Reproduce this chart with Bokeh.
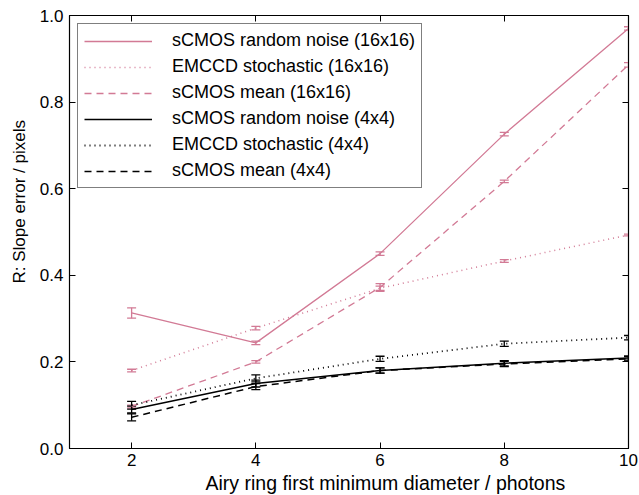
from bokeh.plotting import figure
from bokeh.models import (ColumnDataSource, Whisker, TeeHead, Legend, LegendItem,
                          LinearAxis, FixedTicker, Range1d, NumeralTickFormatter,
                          CustomJSTickFormatter, Title)
from bokeh.embed import file_html
from bokeh.resources import INLINE

# ---- data ----
diameter = [2, 4, 6, 8, 10]

labels = [
    "sCMOS random noise (16x16)",
    "EMCCD stochastic (16x16)",
    "sCMOS mean (16x16)",
    "sCMOS random noise (4x4)",
    "EMCCD stochastic (4x4)",
    "sCMOS mean (4x4)",
]
scmos_rand_16 = [0.313, 0.244, 0.450, 0.726, 0.970]
scmos_rand_16_err = [0.012, 0.004, 0.004, 0.004, 0.004]
emccd_16 = [0.180, 0.278, 0.370, 0.433, 0.493]
emccd_16_err = [0.003, 0.004, 0.005, 0.003, 0.002]
scmos_mean_16 = [0.097, 0.200, 0.372, 0.617, 0.886]
scmos_mean_16_err = [0.003, 0.003, 0.009, 0.003, 0.005]
scmos_rand_4 = [0.090, 0.150, 0.180, 0.197, 0.209]
scmos_rand_4_err = [0.008, 0.008, 0.006, 0.006, 0.005]
emccd_4 = [0.100, 0.162, 0.207, 0.242, 0.256]
emccd_4_err = [0.009, 0.008, 0.006, 0.006, 0.005]
scmos_mean_4 = [0.072, 0.143, 0.180, 0.195, 0.207]
scmos_mean_4_err = [0.008, 0.007, 0.006, 0.006, 0.005]

x_ticks = [2, 4, 6, 8, 10]
y_ticks = [0.0, 0.2, 0.4, 0.6, 0.8, 1.0]
x_title = "Airy ring first minimum diameter / photons"
y_title = "R: Slope error / pixels"

PINK = "#d27a95"
FONT = "Liberation Sans"

values = [scmos_rand_16, emccd_16, scmos_mean_16, scmos_rand_4, emccd_4, scmos_mean_4]
errors = [scmos_rand_16_err, emccd_16_err, scmos_mean_16_err,
          scmos_rand_4_err, emccd_4_err, scmos_mean_4_err]
colors = [PINK, PINK, PINK, "black", "black", "black"]
dashes = ["solid", "1 4", "7 5", "solid", "1 4", "7 5"]
widths = [1.3, 1.5, 1.3, 1.5, 1.8, 1.5]

p = figure(width=639, height=495, output_backend="svg", toolbar_location=None,
           x_range=Range1d(1, 10), y_range=Range1d(0, 1),
           min_border_left=68, min_border_right=11, min_border_top=15,
           min_border_bottom=47)
p.grid.visible = False
p.outline_line_color = "black"
p.outline_line_width = 1.2
p.background_fill_color = "white"
p.border_fill_color = "white"

items = []
for lab, v, e, c, d, w in zip(labels, values, errors, colors, dashes, widths):
    lo = [a - b for a, b in zip(v, e)]
    hi = [a + b for a, b in zip(v, e)]
    src = ColumnDataSource(dict(x=diameter, y=v, lo=lo, hi=hi))
    r = p.line("x", "y", source=src, line_color=c, line_dash=d, line_width=w)
    wk = Whisker(source=src, base="x", lower="lo", upper="hi",
                 line_color=c, line_width=1.3,
                 lower_head=TeeHead(size=9, line_color=c, line_width=1.3),
                 upper_head=TeeHead(size=9, line_color=c, line_width=1.3))
    p.add_layout(wk)
    items.append(LegendItem(label=lab, renderers=[r]))

legend = Legend(items=items, location="top_left", margin=8,
                label_text_font=FONT, label_text_font_size="18px",
                label_text_color="black",
                glyph_width=68, glyph_height=20, label_height=20,
                label_standoff=20, spacing=5, padding=6,
                border_line_color="black", border_line_width=1.2,
                background_fill_alpha=1.0)
p.add_layout(legend)

for ax in (p.xaxis[0], p.yaxis[0]):
    ax.major_tick_in = 6
    ax.major_tick_out = 0
    ax.minor_tick_line_color = None
    ax.axis_line_color = "black"
    ax.major_tick_line_color = "black"
    ax.major_label_text_font = FONT
    ax.major_label_text_font_size = "17px"
    ax.major_label_text_color = "black"

p.xaxis[0].ticker = FixedTicker(ticks=x_ticks)
p.yaxis[0].ticker = FixedTicker(ticks=y_ticks)
p.yaxis[0].formatter = NumeralTickFormatter(format="0.0")
p.xaxis[0].major_label_standoff = 5
p.yaxis[0].major_label_standoff = 6

# axis titles placed as in the reference (both shifted off the frame centre)
p.add_layout(Title(text=x_title, align="left", offset=136, standoff=2,
                   text_font=FONT, text_font_size="19.5px", text_font_style="normal",
                   text_color="black"), "below")
p.add_layout(Title(text=y_title, align="left", offset=165, standoff=15,
                   text_font=FONT, text_font_size="17px", text_font_style="normal",
                   text_color="black"), "left")

blank = CustomJSTickFormatter(code="return ''")
top = LinearAxis(ticker=FixedTicker(ticks=x_ticks), major_tick_in=6, major_tick_out=0,
                 minor_tick_line_color=None, formatter=blank,
                 major_label_standoff=0, axis_line_color="black")
right = LinearAxis(ticker=FixedTicker(ticks=y_ticks), major_tick_in=6, major_tick_out=0,
                   minor_tick_line_color=None, formatter=blank,
                   major_label_standoff=0, axis_line_color="black")
p.add_layout(top, "above")
p.add_layout(right, "right")

open("out.html", "w").write(file_html(p, INLINE))
